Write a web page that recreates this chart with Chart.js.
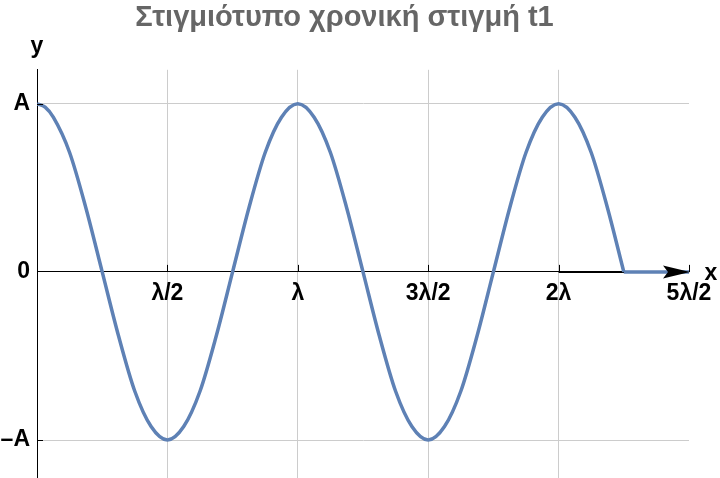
<!DOCTYPE html>
<html>
<head>
<meta charset="utf-8">
<script src="https://cdn.jsdelivr.net/npm/chart.js@4.4.1/dist/chart.umd.min.js"></script>
<style>
  html, body { margin: 0; padding: 0; background: #ffffff; }
  #wrap { width: 720px; height: 478px; }
</style>
</head>
<body>
<div id="wrap"><canvas id="c" width="720" height="478"></canvas></div>
<script>
// ---- data (x in units of λ, y in units of A) ----
const waveX = [0, 0.03125, 0.0625, 0.125, 0.1875, 0.25, 0.3125, 0.375, 0.4375, 0.5,
  0.5625, 0.625, 0.6875, 0.75, 0.8125, 0.875, 0.9375, 1,
  1.0625, 1.125, 1.1875, 1.25, 1.3125, 1.375, 1.4375, 1.5,
  1.5625, 1.625, 1.6875, 1.75, 1.8125, 1.875, 1.9375, 2,
  2.0625, 2.125, 2.1875, 2.25];
const waveY = [1, 0.98, 0.92, 0.71, 0.38, 0, -0.38, -0.71, -0.92, -1,
  -0.92, -0.71, -0.38, 0, 0.38, 0.71, 0.92, 1,
  0.92, 0.71, 0.38, 0, -0.38, -0.71, -0.92, -1,
  -0.92, -0.71, -0.38, 0, 0.38, 0.71, 0.92, 1,
  0.92, 0.71, 0.38, 0];
const tailX = [2.25, 2.5];
const tailY = [0, 0];
const arrowX = [2, 2.5];
const arrowY = [0, 0];
const xTickValues = [0.5, 1, 1.5, 2, 2.5];
const xTickLabels = ['λ/2', 'λ', '3λ/2', '2λ', '5λ/2'];
const yTickValues = [-1, 0, 1];
const yTickLabels = ['–A', '0', 'A'];
const titleText = 'Στιγμιότυπο χρονική στιγμή t1';
const xAxisName = 'x';
const yAxisName = 'y';

const toPts = (xs, ys) => xs.map((x, i) => ({ x: x, y: ys[i] }));
const FONT = "'Liberation Sans', Arial, sans-serif";
const BLUE = '#5E81B5';

const zeroPad = s => { s.paddingTop = 0; s.paddingBottom = 0; s.paddingLeft = 0; s.paddingRight = 0; };

const decorPlugin = {
  id: 'decor',
  afterDatasetsDraw(chart) {
    const ctx = chart.ctx;
    const xs = chart.scales.x, ys = chart.scales.y;
    const y0 = ys.getPixelForValue(0);
    const x0 = xs.getPixelForValue(0);
    ctx.save();
    // tick marks
    ctx.strokeStyle = '#000';
    ctx.lineWidth = 1;
    ctx.beginPath();
    xTickValues.forEach(v => {
      const px = Math.round(xs.getPixelForValue(v)) + 0.5;
      ctx.moveTo(px, y0); ctx.lineTo(px, y0 - 7);
    });
    yTickValues.forEach(v => {
      if (v === 0) return;
      const py = Math.round(ys.getPixelForValue(v)) + 0.5;
      ctx.moveTo(x0, py); ctx.lineTo(x0 + 6, py);
    });
    ctx.stroke();
    // arrowhead at end of arrow
    const tipX = xs.getPixelForValue(arrowX[arrowX.length - 1]) + 1;
    const ay = ys.getPixelForValue(arrowY[arrowY.length - 1]);
    ctx.fillStyle = '#000';
    ctx.beginPath();
    ctx.moveTo(tipX, ay);
    ctx.lineTo(tipX - 27, ay - 6.5);
    ctx.lineTo(tipX - 22, ay);
    ctx.lineTo(tipX - 27, ay + 6.5);
    ctx.closePath();
    ctx.fill();
    // axis names
    ctx.font = 'bold 23px ' + FONT;
    ctx.textAlign = 'center';
    ctx.textBaseline = 'alphabetic';
    ctx.fillText(xAxisName, xs.right + 22, y0 + 8);
    ctx.fillText(yAxisName, x0, ys.top - 17);
    ctx.restore();
  }
};

new Chart(document.getElementById('c'), {
  type: 'scatter',
  data: {
    datasets: [
      {
        data: toPts(waveX, waveY),
        showLine: true,
        borderColor: BLUE,
        borderWidth: 3.5,
        pointRadius: 0,
        cubicInterpolationMode: 'monotone',
        order: 1
      },
      {
        data: toPts(tailX, tailY),
        showLine: true,
        borderColor: BLUE,
        borderWidth: 3.5,
        pointRadius: 0,
        order: 1
      },
      {
        data: toPts(arrowX, arrowY),
        showLine: true,
        borderColor: '#000',
        borderWidth: 2,
        pointRadius: 0,
        order: 5
      }
    ]
  },
  options: {
    responsive: false,
    animation: false,
    devicePixelRatio: 1,
    layout: { padding: { left: 0, right: 31, top: 0, bottom: 0 } },
    plugins: {
      legend: { display: false },
      tooltip: { enabled: false },
      title: {
        display: true,
        text: titleText,
        color: '#666666',
        font: { family: FONT, size: 29, weight: 'bold', lineHeight: 1.2 },
        padding: { top: 1, bottom: 34 }
      }
    },
    scales: {
      x: {
        type: 'linear',
        min: 0,
        max: 2.5,
        position: { y: 0 },
        afterBuildTicks: s => { s.ticks = xTickValues.map(v => ({ value: v })); },
        afterFit: s => { s.height = 0; zeroPad(s); },
        grid: {
          color: c => (c.tick && c.tick.value === 2.5) ? 'rgba(0,0,0,0)' : '#cccccc',
          lineWidth: 1,
          drawTicks: false
        },
        border: { display: true, color: '#000', width: 1 },
        ticks: {
          color: '#000',
          font: { family: FONT, size: 23, weight: 'bold' },
          padding: 8,
          maxRotation: 0,
          autoSkip: false,
          callback: v => { const i = xTickValues.indexOf(v); return i >= 0 ? xTickLabels[i] : ''; }
        }
      },
      y: {
        type: 'linear',
        min: -1.226,
        max: 1.202,
        position: 'left',
        afterBuildTicks: s => { s.ticks = yTickValues.map(v => ({ value: v })); },
        afterFit: s => { s.width = 37; zeroPad(s); },
        grid: {
          color: c => (c.tick && c.tick.value === 0) ? 'rgba(0,0,0,0)' : '#cccccc',
          lineWidth: 1,
          drawTicks: false
        },
        border: { display: true, color: '#000', width: 1 },
        ticks: {
          color: '#000',
          font: { family: FONT, size: 23, weight: 'bold' },
          padding: 7,
          autoSkip: false,
          callback: v => { const i = yTickValues.indexOf(v); return i >= 0 ? yTickLabels[i] : ''; }
        }
      }
    }
  },
  plugins: [decorPlugin]
});
</script>
</body>
</html>
